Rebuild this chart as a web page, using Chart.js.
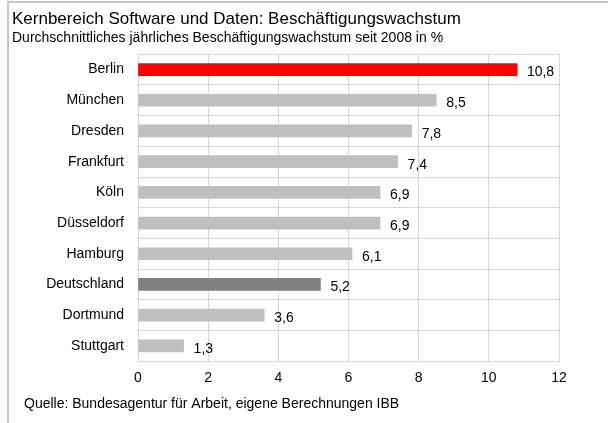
<!DOCTYPE html>
<html>
<head>
<meta charset="utf-8">
<script src="https://cdn.jsdelivr.net/npm/chart.js@4.4.0/dist/chart.umd.min.js"></script>
<style>
  html, body { margin: 0; padding: 0; background: #fff; }
  #canvas-container { position: relative; width: 608px; height: 423px; }
  #frame {
    position: absolute; left: 7px; top: 1px; right: 0; bottom: 0;
    border-left: 2px solid #c6c6c6; border-top: 2px solid #c6c6c6;
    pointer-events: none;
  }
</style>
</head>
<body>
<div id="canvas-container">
  <canvas id="bar-chart"></canvas>
  <div id="frame"></div>
</div>
<script>
const cities = ['Berlin', 'München', 'Dresden', 'Frankfurt', 'Köln', 'Düsseldorf', 'Hamburg', 'Deutschland', 'Dortmund', 'Stuttgart'];
const growth = [10.8, 8.5, 7.8, 7.4, 6.9, 6.9, 6.1, 5.2, 3.6, 1.3];
const bar_colors = ['#ff0000', '#bfbfbf', '#bfbfbf', '#bfbfbf', '#bfbfbf', '#bfbfbf', '#bfbfbf', '#808080', '#bfbfbf', '#bfbfbf'];
const x_ticks = [0, 2, 4, 6, 8, 10, 12];

const title_text = 'Kernbereich Software und Daten: Beschäftigungswachstum';
const subtitle_text = 'Durchschnittliches jährliches Beschäftigungswachstum seit 2008 in %';
const source_text = 'Quelle: Bundesagentur für Arbeit, eigene Berechnungen IBB';

const font_family = '"Liberation Sans", Arial, sans-serif';
const grid_color = '#d6d6d6';

// value labels right of each bar, decimal comma
const value_labels = {
    id: 'value_labels',
    afterDatasetsDraw(chart) {
        const ctx = chart.ctx;
        const meta = chart.getDatasetMeta(0);
        ctx.save();
        ctx.font = '14px ' + font_family;
        ctx.fillStyle = '#000';
        ctx.textAlign = 'left';
        ctx.textBaseline = 'middle';
        meta.data.forEach((bar, i) => {
            const v = chart.data.datasets[0].data[i];
            ctx.fillText(v.toFixed(1).replace('.', ','), bar.x + 10, bar.y + 3);
        });
        ctx.restore();
    }
};

const source_note = {
    id: 'source_note',
    afterDraw(chart) {
        const ctx = chart.ctx;
        ctx.save();
        ctx.font = '14px ' + font_family;
        ctx.fillStyle = '#000';
        ctx.textAlign = 'left';
        ctx.textBaseline = 'middle';
        ctx.fillText(source_text, 24, chart.height - 19);
        ctx.restore();
    }
};

const chart = new Chart(document.getElementById('bar-chart'), {
    type: 'bar',
    data: {
        labels: cities,
        datasets: [{
            data: growth,
            backgroundColor: bar_colors,
            borderWidth: 0,
            barThickness: 12
        }]
    },
    options: {
        indexAxis: 'y',
        responsive: true,
        maintainAspectRatio: false,
        animation: false,
        layout: {
            padding: { left: 12, right: 49, top: 0, bottom: 27 }
        },
        plugins: {
            legend: { display: false },
            tooltip: { enabled: false },
            title: {
                display: true,
                text: title_text,
                align: 'start',
                color: '#000',
                font: { family: font_family, size: 17, weight: 'normal' },
                padding: { top: 9, bottom: 0 }
            },
            subtitle: {
                display: true,
                text: subtitle_text,
                align: 'start',
                color: '#000',
                font: { family: font_family, size: 14, weight: 'normal' },
                padding: { top: 0, bottom: 8 }
            }
        },
        scales: {
            x: {
                min: 0,
                max: 12,
                afterBuildTicks: (scale) => { scale.ticks = x_ticks.map(v => ({ value: v })); },
                grid: { color: grid_color, drawTicks: false },
                border: { color: grid_color },
                ticks: {
                    color: '#000',
                    padding: 9,
                    font: { family: font_family, size: 14 }
                }
            },
            y: {
                afterFit: (scale) => { scale.width = 126; },
                grid: { color: grid_color, drawTicks: false, offset: true },
                border: { color: grid_color },
                ticks: {
                    color: '#000',
                    padding: 14,
                    font: { family: font_family, size: 14 }
                }
            }
        }
    },
    plugins: [value_labels, source_note]
});
</script>
</body>
</html>
